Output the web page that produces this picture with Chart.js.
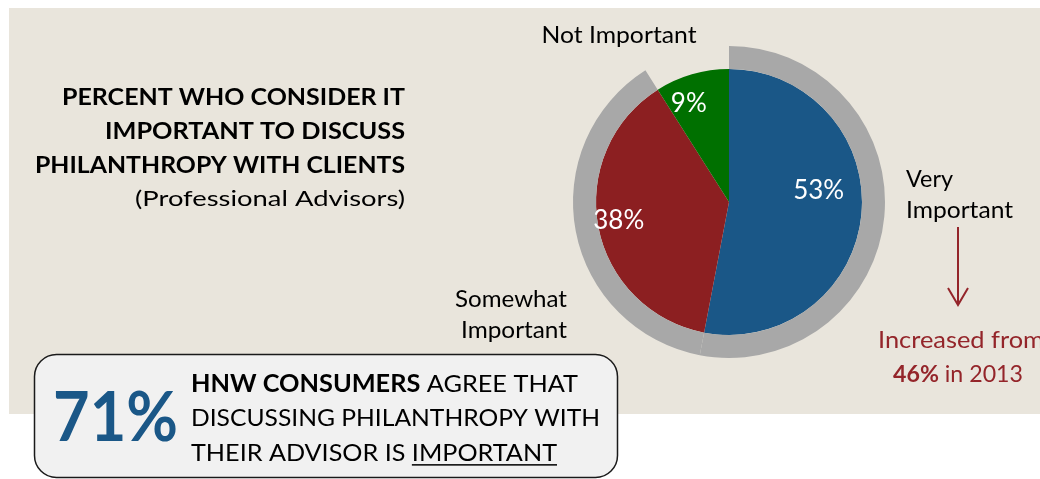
<!DOCTYPE html>
<html>
<head>
<meta charset="utf-8">
<script src="https://cdn.jsdelivr.net/npm/chart.js@4.4.1/dist/chart.umd.min.js"></script>
<style>
  html, body { margin: 0; padding: 0; background: #fff; }
  #wrap { width: 1040px; height: 479px; }
</style>
</head>
<body>
<div id="wrap"><canvas id="advisorChart" width="1040" height="479"></canvas></div>
<script>
// survey values
const categories = ["Very Important", "Somewhat Important", "Not Important"];
const advisorShares = [53, 38, 9];
const consumerAgree = 71;
const veryImportantBefore = 46;
const beforeYear = 2013;

const sliceColors = ["#1a5787", "#8c1f21", "#007000"];
const ringColors = ["#a8a8a8", "#a8a8a8", "rgba(0,0,0,0)"];
const darkRed = "#94252a";
const FONT = "Lato, 'Noto Sans', sans-serif";

// nudges for the percent labels inside the pie (fraction of radius, degrees)
const labelPlacement = [
  { r: 0.68, turn: -13 },
  { r: 0.84, turn: 1.5 },
  { r: 0.8, turn: -6 },
];

const fontOf = (run, size) => `${run.bold ? "700" : "400"} ${size}px ${FONT}`;

function drawRuns(ctx, runs, x, y, o) {
  let total = 0;
  const widths = runs.map((r) => {
    ctx.font = fontOf(r, o.size);
    const w = ctx.measureText(r.text).width;
    total += w;
    return w;
  });
  const sx = o.width ? o.width / total : 1;
  const shown = total * sx;
  let left = x;
  if (o.align === "right") left = x - shown;
  else if (o.align === "center") left = x - shown / 2;
  ctx.save();
  ctx.translate(left, y);
  ctx.scale(sx, 1);
  ctx.fillStyle = o.color || "#000";
  ctx.textAlign = "left";
  ctx.textBaseline = "alphabetic";
  let cx = 0;
  runs.forEach((r, i) => {
    ctx.font = fontOf(r, o.size);
    ctx.fillText(r.text, cx, 0);
    if (r.underline) ctx.fillRect(cx, o.size * 0.13, widths[i], 1.5);
    cx += widths[i];
  });
  ctx.restore();
}

const backdrop = {
  id: "backdrop",
  beforeDraw(chart) {
    const ctx = chart.ctx;
    ctx.save();
    ctx.fillStyle = "#e9e5dc";
    ctx.fillRect(9, 8, 1031, 406);
    ctx.restore();
  },
};

const pieLabels = {
  id: "pieLabels",
  afterDatasetsDraw(chart) {
    const ctx = chart.ctx;
    const meta = chart.getDatasetMeta(1);
    meta.data.forEach((arc, i) => {
      const p = labelPlacement[i];
      const mid = (arc.startAngle + arc.endAngle) / 2 + (p.turn * Math.PI) / 180;
      const r = arc.outerRadius * p.r;
      const x = arc.x + Math.cos(mid) * r;
      const y = arc.y + Math.sin(mid) * r;
      drawRuns(ctx, [{ text: `${advisorShares[i]}%` }], x, y + 9, {
        size: 26,
        color: "#fff",
        align: "center",
      });
    });
  },
};

const annotations = {
  id: "annotations",
  afterDraw(chart) {
    const ctx = chart.ctx;

    // title block
    drawRuns(ctx, [{ text: "PERCENT WHO CONSIDER IT", bold: true }], 405, 105, { size: 22, align: "right", width: 343 });
    drawRuns(ctx, [{ text: "IMPORTANT TO DISCUSS", bold: true }], 405, 139, { size: 22, align: "right", width: 300 });
    drawRuns(ctx, [{ text: "PHILANTHROPY WITH CLIENTS", bold: true }], 405, 173, { size: 22, align: "right", width: 370 });
    drawRuns(ctx, [{ text: "(Professional Advisors)" }], 405, 206, { size: 22, align: "right", width: 270 });

    // category names
    drawRuns(ctx, [{ text: categories[2] }], 619, 43, { size: 23, align: "center", width: 155 });
    const [veryA, veryB] = categories[0].split(" ");
    drawRuns(ctx, [{ text: veryA }], 906, 187, { size: 23, width: 47 });
    drawRuns(ctx, [{ text: veryB }], 906, 218, { size: 23, width: 107 });
    const [someA, someB] = categories[1].split(" ");
    drawRuns(ctx, [{ text: someA }], 567, 307, { size: 23, align: "right", width: 112 });
    drawRuns(ctx, [{ text: someB }], 567, 338, { size: 23, align: "right", width: 106 });

    // arrow
    ctx.save();
    ctx.strokeStyle = darkRed;
    ctx.lineWidth = 2;
    ctx.beginPath();
    ctx.moveTo(958, 227);
    ctx.lineTo(958, 305);
    ctx.moveTo(948, 288);
    ctx.lineTo(958, 305);
    ctx.lineTo(968, 288);
    ctx.stroke();
    ctx.restore();

    drawRuns(ctx, [{ text: "Increased from" }], 878, 348, { size: 23, color: darkRed, width: 166 });
    drawRuns(ctx, [{ text: `${veryImportantBefore}%`, bold: true }, { text: ` in ${beforeYear}` }], 893, 382, {
      size: 23,
      color: darkRed,
      width: 130,
    });

    // callout box
    ctx.save();
    ctx.beginPath();
    ctx.roundRect(34.5, 354.5, 583, 123, 22);
    ctx.fillStyle = "#f1f1f1";
    ctx.fill();
    ctx.lineWidth = 1.5;
    ctx.strokeStyle = "#1a1a1a";
    ctx.stroke();
    ctx.restore();

    drawRuns(ctx, [{ text: `${consumerAgree}%`, bold: true }], 53, 441, { size: 69, color: "#1a5787", width: 125 });
    drawRuns(ctx, [{ text: "HNW CONSUMERS", bold: true }, { text: " AGREE THAT" }], 191, 392, { size: 24, width: 387 });
    drawRuns(ctx, [{ text: "DISCUSSING PHILANTHROPY WITH" }], 191, 426, { size: 24, width: 409 });
    drawRuns(ctx, [{ text: "THEIR ADVISOR IS " }, { text: "IMPORTANT", underline: true }], 191, 461, { size: 24, width: 366 });
  },
};

new Chart(document.getElementById("advisorChart"), {
  type: "pie",
  data: {
    labels: categories,
    datasets: [
      {
        label: "Important overall",
        data: advisorShares,
        backgroundColor: ringColors,
        borderWidth: 0,
        weight: 23,
      },
      {
        label: "Professional Advisors",
        data: advisorShares,
        backgroundColor: sliceColors,
        borderWidth: 0,
        weight: 133,
      },
    ],
  },
  options: {
    responsive: false,
    animation: false,
    events: [],
    radius: 156,
    layout: { padding: { left: 573, right: 155, top: 46, bottom: 121 } },
    plugins: {
      legend: { display: false },
      tooltip: { enabled: false },
      title: { display: false },
    },
  },
  plugins: [backdrop, pieLabels, annotations],
});
</script>
</body>
</html>
